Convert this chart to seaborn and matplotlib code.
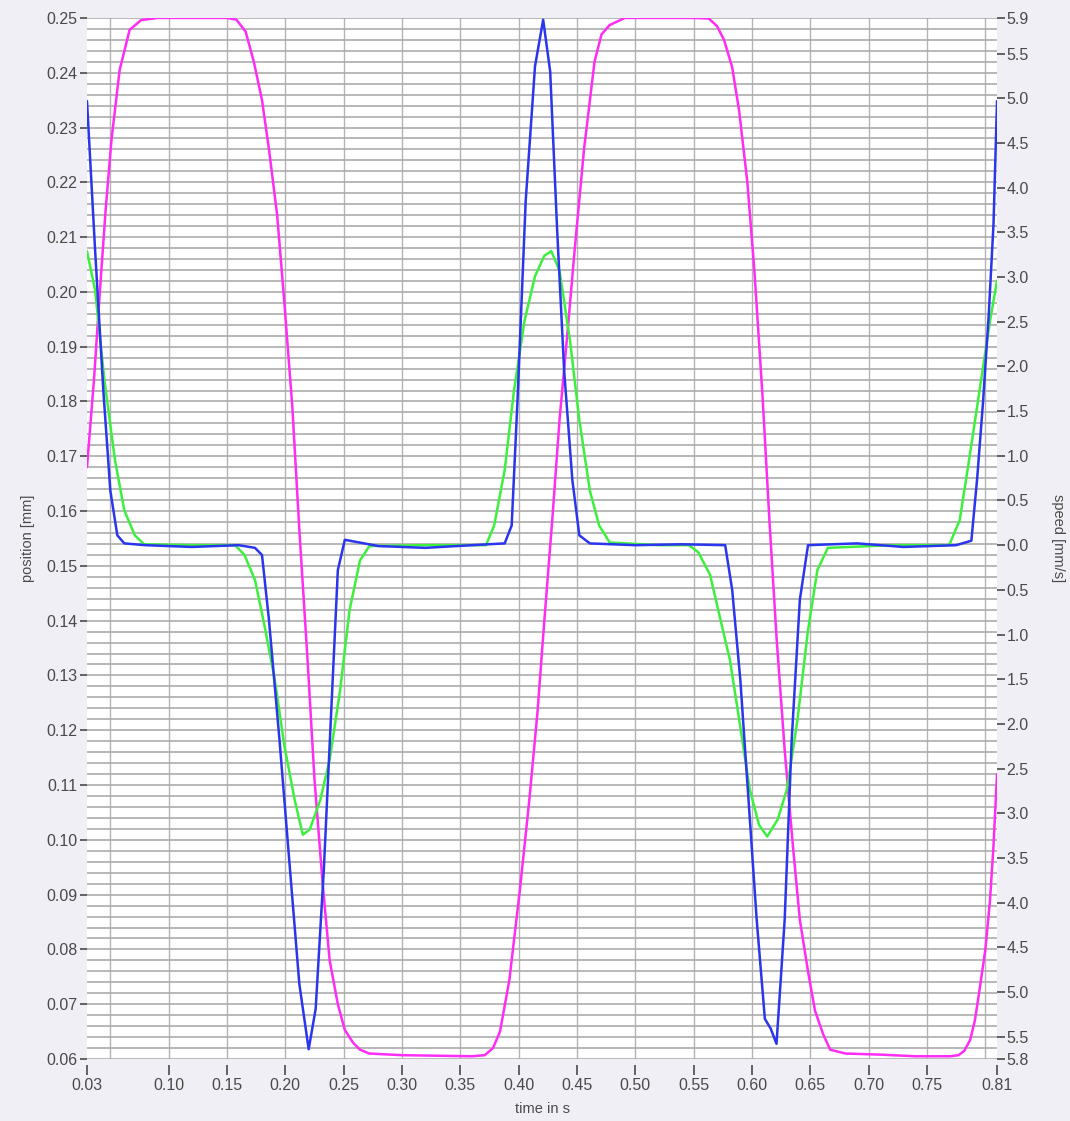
import numpy as np
import pandas as pd
import matplotlib
matplotlib.use("Agg")
import matplotlib.pyplot as plt
import seaborn as sns

# ---- data ----
# position (magenta, left axis)
t_pos = [0.030, 0.036, 0.041, 0.046, 0.051, 0.058, 0.0665, 0.0763, 0.090, 0.120, 0.150, 0.158,
         0.166, 0.173, 0.180, 0.186, 0.193, 0.199, 0.206, 0.212, 0.219, 0.225, 0.232, 0.238,
         0.245, 0.251, 0.258, 0.264, 0.272, 0.300, 0.330, 0.360, 0.371, 0.378, 0.384, 0.392,
         0.401, 0.409, 0.416, 0.422, 0.429, 0.435, 0.442, 0.448, 0.456, 0.465, 0.471, 0.478,
         0.491, 0.520, 0.550, 0.563, 0.570, 0.576, 0.583, 0.589, 0.596, 0.602, 0.609, 0.615,
         0.621, 0.628, 0.635, 0.641, 0.648, 0.654, 0.661, 0.667, 0.680, 0.710, 0.740, 0.770,
         0.777, 0.782, 0.787, 0.791, 0.795, 0.800, 0.804, 0.807, 0.810]
pos = [0.168, 0.184, 0.200, 0.215, 0.2278, 0.2405, 0.2478, 0.2496, 0.2500, 0.2500, 0.2500, 0.2497,
       0.2475, 0.2420, 0.2350, 0.2260, 0.2140, 0.1985, 0.1790, 0.1566, 0.1330, 0.1110, 0.0920, 0.0780,
       0.0700, 0.0653, 0.0630, 0.0617, 0.0610, 0.0607, 0.0606, 0.0605, 0.0607, 0.0620, 0.0650, 0.0744,
       0.0908, 0.1070, 0.1230, 0.1400, 0.1590, 0.1766, 0.1930, 0.2077, 0.2260, 0.2420, 0.2470, 0.2487,
       0.2500, 0.2500, 0.2500, 0.2499, 0.2485, 0.2460, 0.2410, 0.2330, 0.2200, 0.2040, 0.1810, 0.1580,
       0.1370, 0.1164, 0.0990, 0.0854, 0.0760, 0.0688, 0.0645, 0.0617, 0.0610, 0.0608, 0.0605, 0.0605,
       0.0607, 0.0615, 0.0635, 0.0670, 0.0726, 0.0800, 0.0890, 0.0990, 0.1120]

# speed 1 (blue, right axis)
t_blue = [0.030, 0.037, 0.044, 0.050, 0.056, 0.062, 0.080, 0.120, 0.160, 0.174, 0.180, 0.186,
          0.195, 0.204, 0.212, 0.220, 0.226, 0.233, 0.239, 0.245, 0.251, 0.280, 0.320, 0.360,
          0.388, 0.394, 0.399, 0.406, 0.414, 0.421, 0.427, 0.433, 0.439, 0.446, 0.452, 0.461,
          0.500, 0.540, 0.577, 0.583, 0.590, 0.597, 0.604, 0.611, 0.616, 0.621, 0.628, 0.634,
          0.641, 0.648, 0.690, 0.730, 0.775, 0.788, 0.793, 0.798, 0.803, 0.807, 0.810]
speed_blue = [4.97, 3.29, 1.73, 0.61, 0.11, 0.02, 0.00, -0.02, 0.00, -0.03, -0.11, -0.84,
              -2.18, -3.63, -4.91, -5.64, -5.19, -3.63, -1.95, -0.28, 0.06, -0.01, -0.03, 0.00,
              0.02, 0.22, 1.62, 3.85, 5.36, 5.88, 5.30, 3.52, 1.95, 0.73, 0.11, 0.02,
              0.00, 0.01, 0.00, -0.50, -1.51, -2.85, -4.19, -5.30, -5.41, -5.58, -4.19, -2.18,
              -0.61, 0.00, 0.02, -0.02, 0.00, 0.05, 0.75, 1.60, 2.60, 3.60, 4.97]

# speed 2 (green, right axis)
t_green = [0.030, 0.037, 0.045, 0.054, 0.062, 0.071, 0.079, 0.120, 0.157, 0.165, 0.174, 0.182,
           0.191, 0.199, 0.208, 0.215, 0.221, 0.230, 0.238, 0.247, 0.255, 0.264, 0.272, 0.320,
           0.372, 0.379, 0.388, 0.396, 0.405, 0.414, 0.422, 0.428, 0.435, 0.444, 0.452, 0.461,
           0.469, 0.478, 0.520, 0.546, 0.554, 0.564, 0.572, 0.581, 0.589, 0.598, 0.606, 0.613,
           0.622, 0.630, 0.639, 0.648, 0.656, 0.665, 0.720, 0.769, 0.778, 0.786, 0.795, 0.804,
           0.810]
speed_green = [3.29, 2.85, 1.84, 0.95, 0.39, 0.11, 0.01, 0.00, 0.00, -0.11, -0.39, -0.89,
               -1.51, -2.23, -2.85, -3.24, -3.18, -2.85, -2.40, -1.62, -0.73, -0.17, -0.01, 0.00,
               0.00, 0.22, 0.84, 1.73, 2.51, 3.01, 3.24, 3.29, 3.07, 2.29, 1.40, 0.61,
               0.22, 0.03, 0.00, 0.00, -0.08, -0.33, -0.78, -1.28, -1.95, -2.73, -3.13, -3.26,
               -3.07, -2.73, -1.95, -0.95, -0.28, -0.03, 0.00, 0.00, 0.28, 0.95, 1.73, 2.51,
               2.96]

x_ticks = [0.03, 0.10, 0.15, 0.20, 0.25, 0.30, 0.35, 0.40, 0.45, 0.50, 0.55, 0.60, 0.65, 0.70, 0.75, 0.81]
x_grid = [0.05, 0.10, 0.15, 0.20, 0.25, 0.30, 0.35, 0.40, 0.45, 0.50, 0.55, 0.60, 0.65, 0.70, 0.75, 0.80]
left_ticks = [0.06, 0.07, 0.08, 0.09, 0.10, 0.11, 0.12, 0.13, 0.14, 0.15,
              0.16, 0.17, 0.18, 0.19, 0.20, 0.21, 0.22, 0.23, 0.24, 0.25]
right_ticks = [-5.75, -5.5, -5.0, -4.5, -4.0, -3.5, -3.0, -2.5, -2.0, -1.5, -1.0, -0.5, 0.0,
               0.5, 1.0, 1.5, 2.0, 2.5, 3.0, 3.5, 4.0, 4.5, 5.0, 5.5, 5.9]

# ---- style ----
sns.set_theme(style="white")
plt.rcParams["font.family"] = ["Liberation Sans", "DejaVu Sans"]
txt = "#4a4a4a"

fig = plt.figure(figsize=(10.7, 11.21), dpi=100, facecolor="#f0eff5")
ax = fig.add_axes([0.0813, 0.0553, 0.8505, 0.9287])
ax.set_facecolor("white")

pos_df = pd.DataFrame({"t": t_pos, "pos": pos})
sns.lineplot(data=pos_df, x="t", y="pos", ax=ax, color="#ff2cf5", lw=1.8, sort=False, estimator=None)

ax.set_xlim(0.03, 0.81)
ax.set_ylim(0.06, 0.25)
ax.set_xticks(x_ticks)
ax.set_xticklabels([f"{v:.2f}" for v in x_ticks])
ax.set_xticks(x_grid, minor=True)
ax.set_yticks(left_ticks)
ax.set_yticklabels([f"{v:.2f}" for v in left_ticks])
ax.set_yticks(np.arange(0.06, 0.2501, 0.002), minor=True)
# keep grid lines that fall on major tick positions
ax.xaxis.remove_overlapping_locs = False
ax.yaxis.remove_overlapping_locs = False

ax.grid(False)
ax.grid(True, which="minor", axis="y", color="#ababab", lw=1.2)
ax.grid(True, which="minor", axis="x", color="#b4b4b4", lw=1.0)
ax.set_axisbelow(True)
for s in ax.spines.values():
    s.set_visible(False)
ax.spines["bottom"].set_position(("outward", 4))

ax.tick_params(axis="y", which="major", direction="out", length=5, width=1.2, color=txt,
               labelsize=11.5, labelcolor=txt, pad=2, left=True)
ax.tick_params(axis="x", which="major", direction="out", length=7, width=1.2, color=txt,
               labelsize=11.5, labelcolor=txt, pad=3, bottom=True)
ax.tick_params(which="minor", length=0)

ax.set_xlabel("time in s", fontsize=10.5, color=txt, labelpad=6)
ax.set_ylabel("position [mm]", fontsize=10.5, color=txt, labelpad=8)

# right axis: speed
ax2 = ax.twinx()
blue_df = pd.DataFrame({"t": t_blue, "v": speed_blue})
green_df = pd.DataFrame({"t": t_green, "v": speed_green})
sns.lineplot(data=green_df, x="t", y="v", ax=ax2, color="#3ef03e", lw=1.8, sort=False, estimator=None)
sns.lineplot(data=blue_df, x="t", y="v", ax=ax2, color="#2a35ee", lw=1.8, sort=False, estimator=None)
ax2.set_ylim(-5.75, 5.9)
ax2.set_yticks(right_ticks)
ax2.set_yticklabels([f"{abs(v):.1f}" for v in right_ticks])
ax2.grid(False)
for s in ax2.spines.values():
    s.set_visible(False)
ax2.tick_params(axis="y", direction="out", length=6, width=1.2, color=txt,
                labelsize=11.5, labelcolor=txt, pad=1, right=True)
ax2.set_xlabel("")
ax2.set_ylabel("speed [mm/s]", fontsize=10.5, color=txt, rotation=270, labelpad=26)

fig.savefig("out.png", dpi=100, facecolor=fig.get_facecolor())
